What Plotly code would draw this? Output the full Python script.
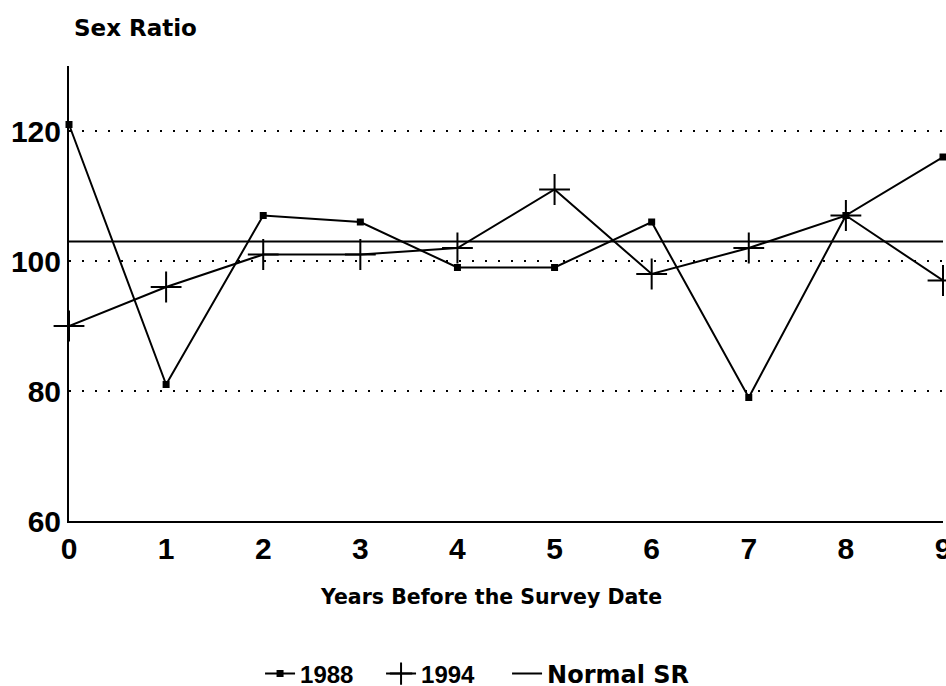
import plotly.graph_objects as go

years = [0, 1, 2, 3, 4, 5, 6, 7, 8, 9]
sr_1988 = [121, 81, 107, 106, 99, 99, 106, 79, 107, 116]
sr_1994 = [90, 96, 101, 101, 102, 111, 98, 102, 107, 97]
normal_sr = 103
y_ticks = [60, 80, 100, 120]

DIG = "Liberation Sans"
TXT = "DejaVu Sans"

fig = go.Figure()
fig.add_trace(go.Scatter(
    x=years, y=sr_1988, mode="lines+markers",
    name='<span style="font-family:Liberation Sans">1988</span>',
    line=dict(color="black", width=2),
    marker=dict(symbol="square", size=7, color="black"),
    cliponaxis=False, legendwidth=76,
))
fig.add_trace(go.Scatter(
    x=years, y=sr_1994, mode="lines+markers",
    name='<span style="font-family:Liberation Sans">1994</span>',
    line=dict(color="black", width=2),
    marker=dict(symbol="cross-thin", size=22, color="black",
                line=dict(color="black", width=2)),
    cliponaxis=False, legendwidth=81,
))
fig.add_trace(go.Scatter(
    x=years, y=[normal_sr] * len(years), mode="lines",
    name="Normal SR",
    line=dict(color="black", width=2),
    cliponaxis=False,
))

fig.update_layout(
    width=946, height=686,
    margin=dict(l=69, r=3, t=66, b=165, autoexpand=False),
    paper_bgcolor="white", plot_bgcolor="white",
    showlegend=True,
    legend=dict(
        orientation="h", xref="paper", x=0.2186, xanchor="left",
        yref="container", y=0.0175, yanchor="middle",
        font=dict(family=TXT, size=24, color="black", weight="bold"),
        bgcolor="rgba(0,0,0,0)",
    ),
    xaxis=dict(
        range=[0, 9], tickvals=years, showgrid=False, zeroline=False,
        showline=True, linecolor="black", linewidth=2, ticks="",
        tickfont=dict(family=DIG, size=30, color="black", weight="bold"),
        ticklabelstandoff=0, ticklabeloverflow="allow", automargin=False,
    ),
    yaxis=dict(
        range=[60, 130], tickvals=y_ticks, showgrid=True, gridcolor="black",
        gridwidth=2, griddash="2px,11px", zeroline=False,
        showline=True, linecolor="black", linewidth=2, ticks="",
        tickfont=dict(family=DIG, size=30, color="black", weight="bold"),
        ticklabelstandoff=0, automargin=False,
    ),
    annotations=[
        dict(text="Sex Ratio", xref="paper", yref="paper", x=0.003, y=1.0835,
             xanchor="left", yanchor="middle", showarrow=False,
             font=dict(family=TXT, size=23, color="black", weight="bold")),
        dict(text="Years Before the Survey Date", xref="paper", yref="paper",
             x=0.483, y=-0.167, xanchor="center", yanchor="middle", showarrow=False,
             font=dict(family=TXT, size=20.5, color="black", weight="bold")),
    ],
)

fig.write_html("out.html")
